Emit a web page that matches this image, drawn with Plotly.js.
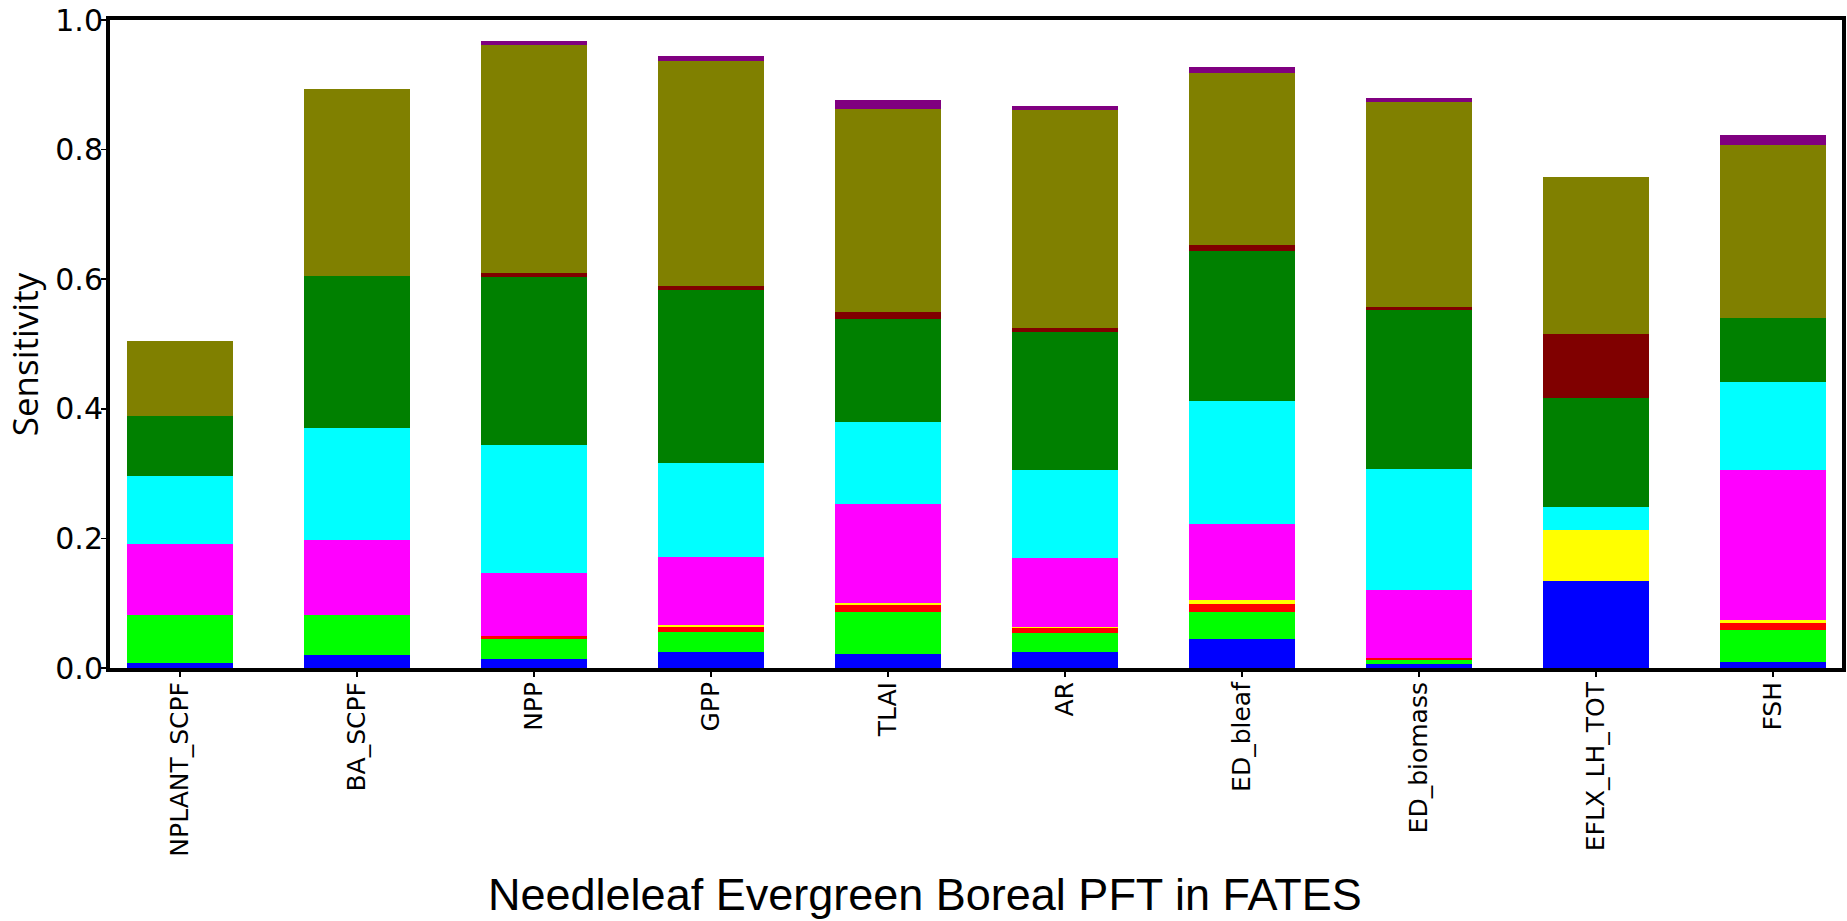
<!DOCTYPE html>
<html>
<head>
<meta charset="utf-8">
<script src="https://cdn.plot.ly/plotly-3.0.1.min.js"></script>
<style>
  html, body { margin: 0; padding: 0; background: #ffffff; }
  #chart { width: 1847px; height: 921px; }
</style>
</head>
<body>
<div id="chart"></div>
<script>
// Output variables analysed for the needleleaf evergreen boreal PFT
const categories = ['NPLANT_SCPF', 'BA_SCPF', 'NPP', 'GPP', 'TLAI', 'AR', 'ED_bleaf', 'ED_biomass', 'EFLX_LH_TOT', 'FSH'];

// Sensitivity contribution of each parameter group, stacked bottom to top
const blueVals    = [0.008, 0.020, 0.014, 0.025, 0.021, 0.024, 0.045, 0.006, 0.135, 0.009];
const limeVals    = [0.074, 0.062, 0.031, 0.030, 0.065, 0.030, 0.041, 0.006, 0.000, 0.049];
const redVals     = [0.000, 0.000, 0.004, 0.009, 0.011, 0.007, 0.013, 0.004, 0.000, 0.012];
const yellowVals  = [0.000, 0.000, 0.000, 0.002, 0.003, 0.002, 0.006, 0.000, 0.078, 0.004];
const magentaVals = [0.109, 0.115, 0.097, 0.105, 0.153, 0.107, 0.117, 0.104, 0.000, 0.232];
const cyanVals    = [0.105, 0.173, 0.198, 0.146, 0.127, 0.136, 0.190, 0.187, 0.036, 0.135];
const greenVals   = [0.093, 0.235, 0.260, 0.267, 0.159, 0.212, 0.231, 0.246, 0.168, 0.099];
const maroonVals  = [0.000, 0.000, 0.005, 0.005, 0.010, 0.007, 0.010, 0.004, 0.099, 0.000];
const oliveVals   = [0.116, 0.288, 0.352, 0.347, 0.314, 0.336, 0.265, 0.317, 0.242, 0.267];
const purpleVals  = [0.000, 0.000, 0.006, 0.008, 0.013, 0.006, 0.010, 0.006, 0.000, 0.015];

const yTickVals = [0.0, 0.2, 0.4, 0.6, 0.8, 1.0];
const yTickText = ['0.0', '0.2', '0.4', '0.6', '0.8', '1.0'];

const stack = [
  { name: 'blue',    values: blueVals,    color: '#0000ff' },
  { name: 'lime',    values: limeVals,    color: '#00ff00' },
  { name: 'red',     values: redVals,     color: '#ff0000' },
  { name: 'yellow',  values: yellowVals,  color: '#ffff00' },
  { name: 'magenta', values: magentaVals, color: '#ff00ff' },
  { name: 'cyan',    values: cyanVals,    color: '#00ffff' },
  { name: 'green',   values: greenVals,   color: '#008000' },
  { name: 'maroon',  values: maroonVals,  color: '#800000' },
  { name: 'olive',   values: oliveVals,   color: '#808000' },
  { name: 'purple',  values: purpleVals,  color: '#800080' }
];

const traces = stack.map(s => ({
  type: 'bar',
  name: s.name,
  x: categories,
  y: s.values,
  width: 0.6,
  marker: { color: s.color, line: { width: 0 } },
  showlegend: false,
  hoverinfo: 'x+y'
}));

const layout = {
  width: 1847,
  height: 921,
  margin: { l: 110, r: 5, t: 20, b: 253 },
  paper_bgcolor: '#ffffff',
  plot_bgcolor: '#ffffff',
  barmode: 'stack',
  xaxis: {
    type: 'category',
    range: [-0.395, 9.39],
    showline: true,
    linecolor: '#000000',
    linewidth: 4,
    mirror: true,
    showgrid: false,
    zeroline: false,
    ticks: 'outside',
    ticklen: 5,
    tickwidth: 1.5,
    tickcolor: '#000000',
    tickangle: -90,
    ticklabelstandoff: -5,
    tickfont: { family: 'DejaVu Sans, sans-serif', size: 25, color: '#000000' }
  },
  yaxis: {
    range: [0, 1.0],
    tickvals: yTickVals,
    ticktext: yTickText,
    showline: true,
    linecolor: '#000000',
    linewidth: 4,
    mirror: true,
    showgrid: false,
    zeroline: false,
    ticks: 'outside',
    ticklen: 5,
    tickwidth: 1.5,
    tickcolor: '#000000',
    ticklabelstandoff: -8,
    ticklabeloverflow: 'allow',
    tickfont: { family: 'DejaVu Sans, sans-serif', size: 30, color: '#000000' }
  },
  annotations: [
    {
      xref: 'paper', yref: 'paper',
      x: -0.0497, y: 0.484,
      xanchor: 'center', yanchor: 'middle',
      textangle: -90,
      showarrow: false,
      text: 'Sensitivity',
      font: { family: 'Open Sans, sans-serif', size: 35, color: '#000000' }
    },
    {
      xref: 'paper', yref: 'paper',
      x: 0.4705, y: -0.349,
      xanchor: 'center', yanchor: 'middle',
      showarrow: false,
      text: 'Needleleaf Evergreen Boreal PFT in FATES',
      font: { family: 'Liberation Sans, sans-serif', size: 45, color: '#000000' }
    }
  ]
};

Plotly.newPlot('chart', traces, layout, { staticPlot: true, displayModeBar: false });
</script>
</body>
</html>
